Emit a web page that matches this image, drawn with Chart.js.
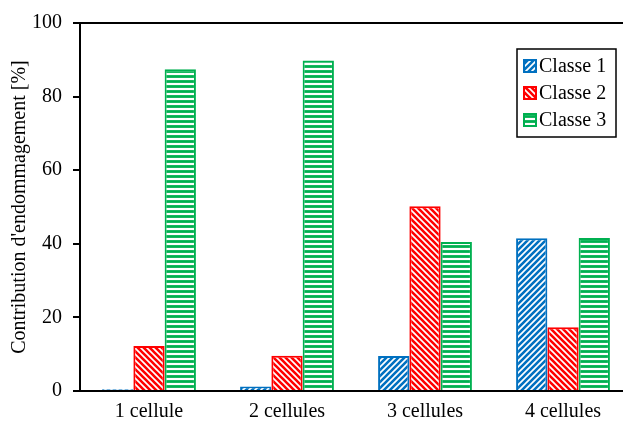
<!DOCTYPE html>
<html>
<head>
<meta charset="utf-8">
<script src="https://cdn.jsdelivr.net/npm/chart.js@4/dist/chart.umd.min.js"></script>
<style>
  html, body { margin: 0; padding: 0; background: #fff; overflow: hidden; }
  #wrap { width: 623px; height: 423px; overflow: hidden; }
</style>
</head>
<body>
<div id="wrap"><canvas id="chart" width="632" height="423"></canvas></div>
<script>
// data
var categories = ['1 cellule', '2 cellules', '3 cellules', '4 cellules'];
var seriesNames = ['Classe 1', 'Classe 2', 'Classe 3'];
var classe1 = [0.5, 1.2, 9.5, 41.5];
var classe2 = [12.2, 9.6, 50.2, 17.3];
var classe3 = [87.4, 89.8, 40.5, 41.6];
var yTicks = [0, 20, 40, 60, 80, 100];

var FONT = '"Liberation Serif", "Times New Roman", serif';

// hatch patterns: kind = 'up' (/), 'down' (\), 'flat' (=)
function makePattern(color, kind) {
	var s = kind === 'flat' ? 5 : 6;
	var c = document.createElement('canvas');
	c.width = s; c.height = s;
	var g = c.getContext('2d');
	g.fillStyle = '#fff';
	g.fillRect(0, 0, s, s);
	g.strokeStyle = color;
	g.lineWidth = kind === 'flat' ? 2.8 : 2.6;
	g.beginPath();
	if (kind === 'flat') {
		g.moveTo(0, 1.5); g.lineTo(s, 1.5);
	} else if (kind === 'up') {
		g.moveTo(0, s); g.lineTo(s, 0);
		g.moveTo(-1, 1); g.lineTo(1, -1);
		g.moveTo(s - 1, s + 1); g.lineTo(s + 1, s - 1);
	} else {
		g.moveTo(0, 0); g.lineTo(s, s);
		g.moveTo(-1, s - 1); g.lineTo(1, s + 1);
		g.moveTo(s - 1, -1); g.lineTo(s + 1, 1);
	}
	g.stroke();
	return g.createPattern(c, 'repeat');
}

var ctx = document.getElementById('chart').getContext('2d');
var colors = ['#0070C0', '#FF0000', '#00B050'];
var patterns = [
	makePattern(colors[0], 'up'),
	makePattern(colors[1], 'down'),
	makePattern(colors[2], 'flat')
];
var values = [classe1, classe2, classe3];

var datasets = seriesNames.map(function(name, i) {
	return {
		label: name,
		data: values[i],
		backgroundColor: patterns[i],
		borderColor: colors[i],
		borderWidth: 2,
		borderSkipped: 'bottom'
	};
});

// top frame line + legend box inside plot
var framePlugin = {
	id: 'frame',
	afterDraw: function(chart) {
		var a = chart.chartArea;
		var c = chart.ctx;
		c.save();
		c.strokeStyle = '#000';
		c.lineWidth = 2;
		c.beginPath();
		c.moveTo(a.left - 7, a.top);
		c.lineTo(chart.width, a.top);
		c.stroke();

		// legend
		var lx = 517, ly = 49, lw = 99, lh = 88;
		c.lineWidth = 1.5;
		c.fillStyle = '#fff';
		c.fillRect(lx, ly, lw, lh);
		c.strokeRect(lx, ly, lw, lh);
		c.font = '20px ' + FONT;
		c.textBaseline = 'middle';
		for (var i = 0; i < seriesNames.length; i++) {
			var cy = 66 + i * 27;
			c.fillStyle = patterns[i];
			c.fillRect(523, cy - 7, 14, 14);
			c.strokeStyle = colors[i];
			c.lineWidth = 2;
			c.strokeRect(524, cy - 6, 12, 12);
			c.fillStyle = '#000';
			c.fillText(seriesNames[i], 539, cy + 1);
		}
		c.restore();
	}
};

new Chart(ctx, {
	type: 'bar',
	data: { labels: categories, datasets: datasets },
	options: {
		responsive: false,
		animation: false,
		layout: { padding: { top: 23, right: 0, left: 0, bottom: 0 } },
		categoryPercentage: 0.68,
		barPercentage: 1,
		plugins: {
			legend: { display: false },
			tooltip: { enabled: false }
		},
		scales: {
			x: {
				grid: { display: false, drawTicks: false },
				border: { display: true, color: '#000', width: 2 },
				ticks: { color: '#000', font: { family: FONT, size: 20 }, padding: 9 },
				afterFit: function(scale) { scale.height = 32; }
			},
			y: {
				min: 0, max: 100,
				afterBuildTicks: function(scale) {
					scale.ticks = yTicks.map(function(v) { return { value: v }; });
				},
				grid: { drawOnChartArea: false, drawTicks: true, tickLength: 7, color: '#000', lineWidth: 2 },
				border: { display: true, color: '#000', width: 2 },
				ticks: { color: '#000', font: { family: FONT, size: 20 }, padding: 11 },
				title: {
					display: true,
					text: "Contribution d'endommagement [%]",
					color: '#000',
					font: { family: FONT, size: 20 },
					padding: { top: 8, bottom: 4 }
				},
				afterFit: function(scale) { scale.width = 80; }
			}
		}
	},
	plugins: [framePlugin]
});
</script>
</body>
</html>
